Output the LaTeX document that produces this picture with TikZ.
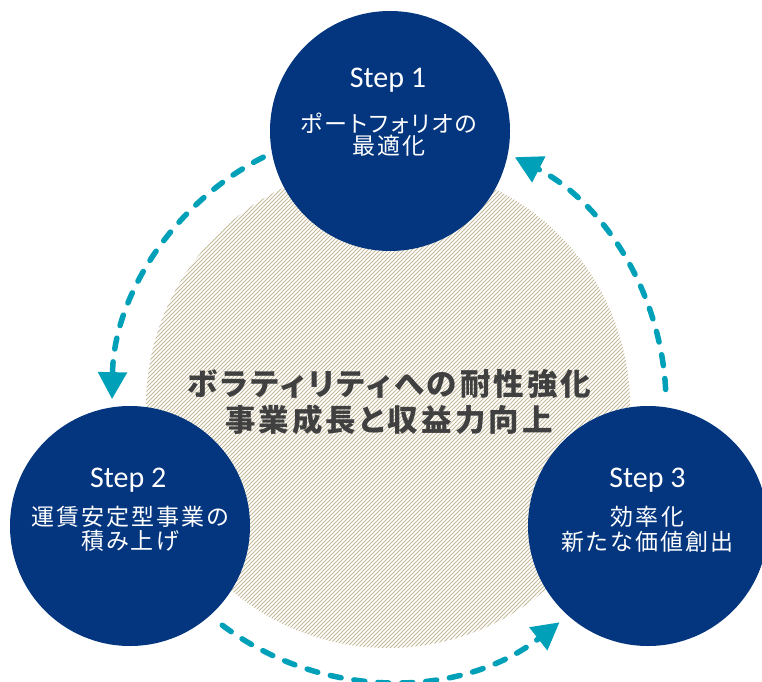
\documentclass[tikz,border=0pt]{standalone}
\usepackage{fontspec}
\setmainfont{Carlito}
\newfontfamily\jp[RawFeature=+palt,LetterSpace=9]{Noto Sans CJK JP}
\newfontfamily\jpb[RawFeature=+palt,LetterSpace=10]{Noto Sans CJK JP}
\usetikzlibrary{arrows.meta}
\definecolor{navyc}{HTML}{03367F}
\definecolor{flowc}{HTML}{00A0B8}
\definecolor{hatchc}{HTML}{C4BA9A}
\definecolor{coretextc}{HTML}{404040}
\begin{document}
\begin{tikzpicture}[x=1pt,y=1pt,
  stepc/.style={circle, fill=navyc, minimum size=240pt, inner sep=0pt},
  steplbl/.style={text=white, font=\fontsize{30}{36}\selectfont, anchor=base, inner sep=0pt},
  jptxt/.style={text=white, font=\jp\fontsize{23}{28}\selectfont, inner sep=0pt},
  coretxt/.style={text=coretextc, font=\jpb\bfseries\fontsize{30.5}{36}\selectfont, inner sep=0pt},
  flow/.style={draw=flowc, line width=5.5pt, line cap=round, dash pattern=on 11pt off 13pt,
    -{Triangle[width=28pt,length=27pt]}},
  hatchline/.style={draw=hatchc, line width=1pt}
]
\useasboundingbox (0,0) rectangle (762,681);
% central hatched disc
\node[circle, minimum size=484pt, inner sep=0pt,
  path picture={\foreach \c in {-360,-356,...,360} {\draw[hatchline] (\c-260,-260) -- (\c+260,260);}}]
  (core) at (388,275) {};
% arrows
\coordinate (arcc) at (389,277);
\path (arcc) ++(117:277pt) coordinate (a1s);
\path (arcc) ++(233:277pt) coordinate (a2s);
\path (arcc) ++(3:277pt) coordinate (a3s);
\draw[flow] (a1s) arc[start angle=117, end angle=179, radius=277pt];
\draw[flow] (a2s) arc[start angle=233, end angle=308, radius=277pt];
\draw[flow] (a3s) arc[start angle=3, end angle=63, radius=277pt];
% step circles
\node[stepc] (step1) at (390,550) {};
\node[stepc] (step2) at (130,155) {};
\node[stepc] (step3) at (648,155) {};
% texts
\node[coretxt] (core1) at (389,297) {ボラティリティへの耐性強化};
\node[coretxt] (core2) at (389,261.3) {事業成長と収益力向上};
\node[steplbl] (s1) at (388,593) {Step 1};
\node[jptxt] (s1a) at (389,558) {ポートフォリオの};
\node[jptxt] (s1b) at (389,535.3) {最適化};
\node[steplbl] (s2) at (128.3,194) {Step 2};
\node[jptxt] (s2a) at (130,164.3) {運賃安定型事業の};
\node[jptxt] (s2b) at (130,139.7) {積み上げ};
\node[steplbl] (s3) at (647.5,194) {Step 3};
\node[jptxt] (s3a) at (647.5,164.3) {効率化};
\node[jptxt] (s3b) at (647.5,139.5) {新たな価値創出};
\end{tikzpicture}
\end{document}
